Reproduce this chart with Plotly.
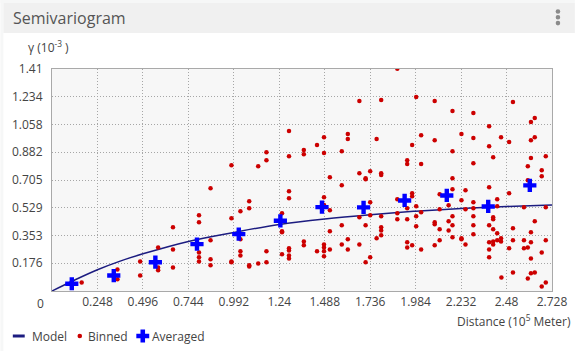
import plotly.graph_objects as go

# ---------------- data ----------------
x_ticks = [0.248, 0.496, 0.744, 0.992, 1.24, 1.488, 1.736, 1.984, 2.232, 2.48, 2.728]
x_tick_text = ["0.248", "0.496", "0.744", "0.992", "1.24", "1.488", "1.736", "1.984", "2.232", "2.48", "2.728"]
y_ticks = [0.17625, 0.3525, 0.52875, 0.705, 0.88125, 1.0575, 1.23375, 1.41]
y_tick_text = ["0.176", "0.353", "0.529", "0.705", "0.882", "1.058", "1.234", "1.41"]

model_x = [0, 0.124, 0.248, 0.372, 0.496, 0.744, 0.992, 1.24, 1.488, 1.736, 1.984, 2.232, 2.48, 2.728]
model_y = [0, 0.070, 0.135, 0.190, 0.236, 0.315, 0.372, 0.423, 0.458, 0.485, 0.507, 0.524, 0.537, 0.547]

avg_x = [0.108, 0.337, 0.564, 0.791, 1.019, 1.246, 1.473, 1.700, 1.924, 2.154, 2.380, 2.607]
avg_y = [0.046, 0.098, 0.183, 0.298, 0.361, 0.446, 0.533, 0.531, 0.575, 0.607, 0.537, 0.671]

binned_x = [
    0.162,
    0.357, 0.357,
    0.481, 0.481,
    0.579, 0.579, 0.579,
    0.660, 0.660, 0.660,
    0.802, 0.802, 0.802, 0.802, 0.802,
    0.865, 0.865, 0.865, 0.865,
    0.979, 0.979, 0.979, 0.979,
    1.028, 1.028, 1.028, 1.028,
    1.076, 1.076, 1.076, 1.076,
    1.125, 1.125,
    1.170, 1.170, 1.170, 1.170,
    1.255, 1.255, 1.255, 1.255,
    1.293, 1.293, 1.293, 1.293, 1.293, 1.293, 1.293, 1.293,
    1.374, 1.374, 1.374, 1.374,
    1.446, 1.446,
    1.484, 1.484, 1.484, 1.484, 1.484, 1.484, 1.484, 1.484,
    1.516, 1.516, 1.516, 1.516,
    1.581, 1.581, 1.581, 1.581,
    1.614, 1.614, 1.614, 1.614,
    1.677, 1.677, 1.677, 1.677,
    1.711, 1.711, 1.711, 1.711,
    1.736, 1.736, 1.736, 1.736,
    1.771, 1.771,
    1.796, 1.796, 1.796, 1.796, 1.796, 1.796, 1.796,
    1.884, 1.884, 1.884, 1.884,
    1.938, 1.938, 1.938, 1.938, 1.938, 1.938,
    1.965, 1.965, 1.965, 1.965,
    1.987, 1.987, 1.987, 1.987,
    2.014, 2.014, 2.014, 2.014,
    2.088, 2.088, 2.088, 2.088, 2.088,
    2.115, 2.115, 2.115, 2.115,
    2.164, 2.164, 2.164,
    2.185, 2.185, 2.185, 2.185, 2.185, 2.185, 2.185,
    2.234, 2.234, 2.234, 2.234,
    2.256, 2.256, 2.256,
    2.299, 2.299, 2.299, 2.299, 2.299, 2.299, 2.299, 2.299,
    2.385, 2.385, 2.385, 2.385, 2.385, 2.385, 2.385,
    2.407, 2.407, 2.407, 2.407, 2.407, 2.407,
    2.429, 2.429, 2.429, 2.429,
    2.450, 2.450, 2.450,
    2.452,
    2.494, 2.494, 2.494,
    2.515, 2.515, 2.515, 2.515,
    2.575, 2.575, 2.575,
    2.596, 2.596, 2.596, 2.596,
    2.613, 2.613, 2.613, 2.613, 2.613, 2.613, 2.613,
    2.634, 2.634, 2.634, 2.634,
    2.672, 2.672, 2.672, 2.672,
    2.694, 2.694, 2.694, 2.694,
]
binned_y = [
    0.054,
    0.137, 0.074,
    0.188, 0.099,
    0.277, 0.150, 0.131,
    0.405, 0.264, 0.150,
    0.481, 0.436, 0.245, 0.214, 0.188,
    0.653, 0.322, 0.201, 0.163,
    0.799, 0.462, 0.188, 0.182,
    0.506, 0.328, 0.252, 0.226,
    0.570, 0.525, 0.163, 0.156,
    0.793, 0.175,
    0.882, 0.831, 0.252, 0.182,
    0.494, 0.379, 0.373, 0.233,
    1.016, 0.856, 0.634, 0.589, 0.271, 0.258, 0.226, 0.207,
    0.895, 0.869, 0.315, 0.290,
    0.927, 0.252,
    0.977, 0.876, 0.596, 0.547, 0.296, 0.277, 0.252, 0.220,
    0.723, 0.513, 0.379, 0.264,
    0.888, 0.672, 0.417, 0.296,
    0.997, 0.965, 0.328, 0.264,
    1.207, 0.748, 0.468, 0.296,
    0.716, 0.710, 0.417, 0.182,
    0.761, 0.564, 0.481, 0.214,
    0.965, 0.335,
    1.213, 0.748, 0.736, 0.475, 0.405, 0.385, 0.354,
    1.412, 0.583, 0.494, 0.455,
    0.831, 0.806, 0.525, 0.455, 0.309, 0.277,
    0.927, 0.621, 0.602, 0.290,
    1.232, 0.538, 0.475, 0.411,
    0.990, 0.806, 0.500, 0.264,
    1.207, 0.958, 0.436, 0.424, 0.290,
    0.615, 0.519, 0.392, 0.322,
    0.545, 0.443, 0.385,
    1.143, 0.888, 0.716, 0.646, 0.475, 0.417, 0.341,
    0.997, 0.576, 0.335, 0.328,
    0.640, 0.519, 0.296,
    1.130, 0.971, 0.812, 0.564, 0.525, 0.475, 0.417, 0.360,
    1.047, 0.920, 0.659, 0.417, 0.309, 0.264, 0.214,
    0.850, 0.468, 0.455, 0.392, 0.315, 0.296,
    0.583, 0.538, 0.366, 0.322,
    0.977, 0.335, 0.315,
    0.086,
    0.946, 0.621, 0.271,
    1.200, 0.398, 0.322, 0.118,
    0.532, 0.322, 0.271,
    0.793, 0.704, 0.277, 0.080,
    1.073, 0.958, 0.844, 0.373, 0.309, 0.207, 0.112,
    1.098, 0.977, 0.443, 0.118,
    0.767, 0.729, 0.245, 0.029,
    0.856, 0.532, 0.322, 0.054,
]

legend_labels = ["Model", "Binned", "Averaged"]

# ---------------- styling ----------------
W, H = 579, 351
ML, MR, MT, MB = 52, 23, 69, 60
PW, PH = W - ML - MR, H - MT - MB
FONT = "Open Sans, Noto Sans, sans-serif"
TXT = "#444444"
NAVY = "#1c1c80"
RED = "#cc0000"
BLUE = "#0000ff"


def px(xp):
    return (xp - ML) / PW


def py(yp):
    return (H - MB - yp) / PH


fig = go.Figure()
fig.add_trace(go.Scatter(x=model_x, y=model_y, mode="lines", name=legend_labels[0],
                         line=dict(color=NAVY, width=1.5, shape="spline", smoothing=1.0),
                         hoverinfo="skip"))
fig.add_trace(go.Scatter(x=binned_x, y=binned_y, mode="markers", name=legend_labels[1],
                         marker=dict(color=RED, size=4.5, line=dict(width=0))))
fig.add_trace(go.Scatter(x=avg_x, y=avg_y, mode="markers", name=legend_labels[2],
                         marker=dict(color=BLUE, size=11, symbol="cross", line=dict(width=0))))

shapes = []
# outer light frame strips
shapes.append(dict(type="rect", xref="paper", yref="paper", x0=px(0), x1=px(W), y0=py(0), y1=py(3),
                   fillcolor="#f6f7f7", line=dict(width=0), layer="below"))
shapes.append(dict(type="rect", xref="paper", yref="paper", x0=px(0), x1=px(3), y0=py(0), y1=py(H),
                   fillcolor="#f6f7f7", line=dict(width=0), layer="below"))
# header band
shapes.append(dict(type="rect", xref="paper", yref="paper", x0=px(3), x1=px(W), y0=py(3), y1=py(33),
                   fillcolor="#f0f0f0", line=dict(width=0), layer="below"))
# kebab menu dots
for cy in (11.5, 17.3, 23.1):
    shapes.append(dict(type="circle", xref="paper", yref="paper",
                       x0=px(562 - 2.3), x1=px(562 + 2.3), y0=py(cy - 2.3), y1=py(cy + 2.3),
                       fillcolor="#8a8a8a", line=dict(width=0)))
# legend symbols
LY = 336
shapes.append(dict(type="line", xref="paper", yref="paper", x0=px(12.5), x1=px(24.5), y0=py(LY), y1=py(LY),
                   line=dict(color=NAVY, width=3)))
shapes.append(dict(type="circle", xref="paper", yref="paper",
                   x0=px(80 - 2.3), x1=px(80 + 2.3), y0=py(LY - 2.3), y1=py(LY + 2.3),
                   fillcolor=RED, line=dict(width=0)))
cx, a, t = 143.5, 6.5, 2.3
pts = [(cx - t, LY - a), (cx + t, LY - a), (cx + t, LY - t), (cx + a, LY - t), (cx + a, LY + t),
       (cx + t, LY + t), (cx + t, LY + a), (cx - t, LY + a), (cx - t, LY + t), (cx - a, LY + t),
       (cx - a, LY - t), (cx - t, LY - t)]
path = "M " + " L ".join(f"{px(x):.5f},{py(y):.5f}" for x, y in pts) + " Z"
shapes.append(dict(type="path", xref="paper", yref="paper", path=path,
                   fillcolor=BLUE, line=dict(width=0)))

annotations = [
    dict(text="Semivariogram", xref="paper", yref="paper", x=px(11), y=py(18), xanchor="left",
         yanchor="middle", showarrow=False, font=dict(size=16, color="#555555", family=FONT)),
    dict(text="γ (10<sup>-3</sup> )", xref="paper", yref="paper", x=px(26), y=py(47), xanchor="left",
         yanchor="middle", showarrow=False, font=dict(size=12, color=TXT, family=FONT)),
    dict(text="0", xref="paper", yref="paper", x=px(40.7), y=py(303), xanchor="center",
         yanchor="middle", showarrow=False, font=dict(size=12, color=TXT, family=FONT)),
    dict(text="Distance (10<sup>5</sup> Meter)", xref="paper", yref="paper", x=px(577), y=py(321),
         xanchor="right", yanchor="middle", showarrow=False, font=dict(size=12, color=TXT, family=FONT)),
    dict(text=legend_labels[0], xref="paper", yref="paper", x=px(30), y=py(LY), xanchor="left",
         yanchor="middle", showarrow=False, font=dict(size=12, color=TXT, family=FONT)),
    dict(text=legend_labels[1], xref="paper", yref="paper", x=px(86), y=py(LY), xanchor="left",
         yanchor="middle", showarrow=False, font=dict(size=12, color=TXT, family=FONT)),
    dict(text=legend_labels[2], xref="paper", yref="paper", x=px(151), y=py(LY), xanchor="left",
         yanchor="middle", showarrow=False, font=dict(size=12, color=TXT, family=FONT)),
]

fig.update_layout(
    width=W, height=H,
    margin=dict(l=ML, r=MR, t=MT, b=MB, pad=0),
    paper_bgcolor="#ffffff",
    plot_bgcolor="#f7f7f7",
    showlegend=False,
    font=dict(family=FONT, size=12, color=TXT),
    shapes=shapes,
    annotations=annotations,
    xaxis=dict(range=[0, 2.728], tickmode="array", tickvals=x_ticks, ticktext=x_tick_text,
               showgrid=True, gridcolor="#a6a6a6", griddash="1px,2px", gridwidth=1,
               zeroline=False, showline=True, linecolor="#a9a9a9", linewidth=1, mirror=True,
               ticks="", tickfont=dict(size=12, color=TXT), fixedrange=True),
    yaxis=dict(range=[0, 1.41], tickmode="array", tickvals=y_ticks, ticktext=y_tick_text,
               showgrid=True, gridcolor="#a6a6a6", griddash="1px,2px", gridwidth=1,
               zeroline=False, showline=True, linecolor="#a9a9a9", linewidth=1, mirror=True,
               ticks="", ticklabelstandoff=6, tickfont=dict(size=12, color=TXT), fixedrange=True),
)

fig.write_html("out.html")
